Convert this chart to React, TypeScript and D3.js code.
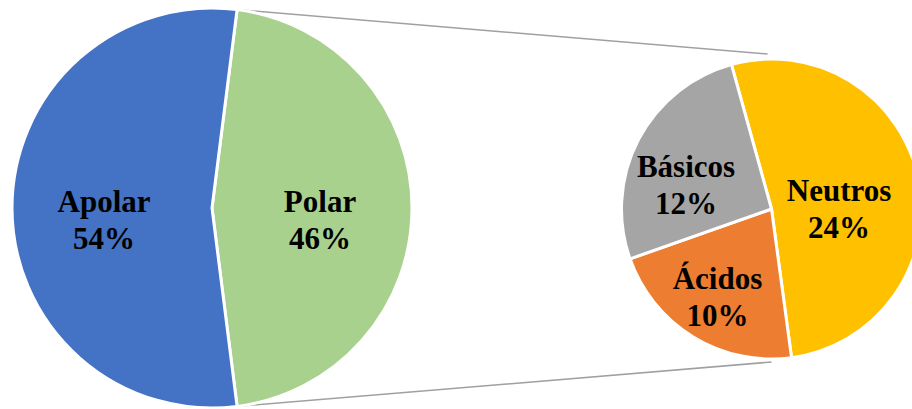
import React from "react";
import * as d3 from "d3";

const mainCategories = ["Polar", "Apolar"];
const mainValues = [46, 54];
const subCategories = ["Neutros", "Ácidos", "Básicos"];
const subValues = [24, 10, 12];

const mainColors: Record<string, string> = { Apolar: "#4472C4", Polar: "#A9D18E" };
const subColors: Record<string, string> = { Neutros: "#FFC000", "Ácidos": "#ED7D31", "Básicos": "#A5A5A5" };

const W = 912;
const H = 409;
const deg = Math.PI / 180;

export default function App() {
  const c1 = { x: 212, y: 208, r: 200 };
  const c2 = { x: 771.5, y: 209, r: 150 };

  const total = d3.sum(mainValues);
  const polarFrac = mainValues[0] / total;
  const mainStart = Math.PI / 2 - Math.PI * polarFrac;
  const mainPie = d3
    .pie<number>()
    .sort(null)
    .startAngle(mainStart)
    .endAngle(mainStart + 2 * Math.PI)
    .value((d) => d);
  const mainArcs = mainPie(mainValues);

  const subStart = -15.5 * deg;
  const subPie = d3
    .pie<number>()
    .sort(null)
    .startAngle(subStart)
    .endAngle(subStart + 2 * Math.PI)
    .value((d) => d);
  const subArcs = subPie(subValues);

  const arc1 = d3.arc<d3.PieArcDatum<number>>().innerRadius(0).outerRadius(c1.r);
  const arc2 = d3.arc<d3.PieArcDatum<number>>().innerRadius(0).outerRadius(c2.r);

  const fmt = (v: number) => `${Math.round((v / total) * 100)}%`;

  // label nudges (relative to centroid at given radius factor)
  const mainLabelR = 0.54 * c1.r;
  const subLabel: Record<string, { rf: number; dx: number; dy: number }> = {
    Neutros: { rf: 0.46, dx: 0, dy: 14 },
    "Ácidos": { rf: 0.69, dx: 0, dy: 0 },
    "Básicos": { rf: 0.59, dx: -7, dy: 17 },
  };

  const polarArc = mainArcs[0];
  const p1 = [c1.x + c1.r * Math.sin(polarArc.startAngle), c1.y - c1.r * Math.cos(polarArc.startAngle)];
  const p2 = [c1.x + c1.r * Math.sin(polarArc.endAngle), c1.y - c1.r * Math.cos(polarArc.endAngle)];
  const q1 = [c2.x - 4, c2.y - c2.r - 5];
  const q2 = [c2.x, c2.y + c2.r + 3];

  const font = {
    fontFamily: "'Liberation Serif', 'Times New Roman', serif",
    fontWeight: 700,
    fontSize: 31,
  } as const;

  const label = (x: number, yc: number, a: string, b: string, key: string) => (
    <text key={key} textAnchor="middle" fill="#000" {...font}>
      <tspan x={x} y={yc - 8.5}>{a}</tspan>
      <tspan x={x} y={yc + 28.5}>{b}</tspan>
    </text>
  );

  return (
    <div style={{ position: "fixed", left: 0, top: 0, width: W, height: H, background: "#fff" }}>
      <svg width={W} height={H} viewBox={`0 0 ${W} ${H}`} style={{ display: "block" }}>
        <line x1={p1[0]} y1={p1[1]} x2={q1[0]} y2={q1[1]} stroke="#a0a0a0" strokeWidth={1.5} />
        <line x1={p2[0]} y1={p2[1]} x2={q2[0]} y2={q2[1]} stroke="#a0a0a0" strokeWidth={1.5} />
        <g transform={`translate(${c1.x},${c1.y})`}>
          {mainArcs.map((a, i) => (
            <path key={i} d={arc1(a) || ""} fill={mainColors[mainCategories[i]]} stroke="#fff" strokeWidth={3} strokeLinejoin="round" />
          ))}
        </g>
        <g transform={`translate(${c2.x},${c2.y})`}>
          {subArcs.map((a, i) => (
            <path key={i} d={arc2(a) || ""} fill={subColors[subCategories[i]]} stroke="#fff" strokeWidth={3} strokeLinejoin="round" />
          ))}
        </g>
        {mainArcs.map((a, i) => {
          const mid = (a.startAngle + a.endAngle) / 2;
          const x = c1.x + mainLabelR * Math.sin(mid);
          const y = c1.y - mainLabelR * Math.cos(mid) + 12;
          return label(x, y, mainCategories[i], fmt(mainValues[i]), "m" + i);
        })}
        {subArcs.map((a, i) => {
          const cfg = subLabel[subCategories[i]];
          const mid = (a.startAngle + a.endAngle) / 2;
          const x = c2.x + cfg.rf * c2.r * Math.sin(mid) + cfg.dx;
          const y = c2.y - cfg.rf * c2.r * Math.cos(mid) + cfg.dy;
          return label(x, y, subCategories[i], fmt(subValues[i]), "s" + i);
        })}
      </svg>
    </div>
  );
}
